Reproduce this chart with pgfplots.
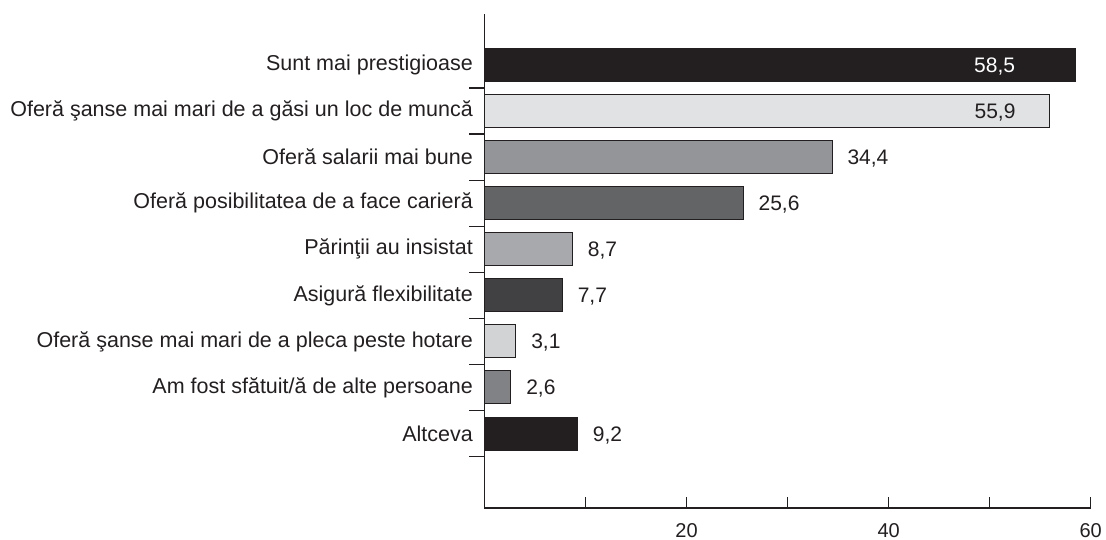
\documentclass[border=0pt]{standalone}
\usepackage{fontspec}
\setmainfont{Liberation Sans}
\usepackage{pgfplots}
\pgfplotsset{compat=1.18}

\definecolor{ink}{HTML}{231F20}
\definecolor{g1}{HTML}{231F20}
\definecolor{g2}{HTML}{E1E2E4}
\definecolor{g3}{HTML}{939598}
\definecolor{g4}{HTML}{636466}
\definecolor{g5}{HTML}{A7A9AC}
\definecolor{g6}{HTML}{414042}
\definecolor{g7}{HTML}{D1D3D4}
\definecolor{g8}{HTML}{808285}
\definecolor{g9}{HTML}{231F20}

\newcommand{\lblfont}{\fontsize{21.5}{24}\selectfont}
\newcommand{\valfont}{\fontsize{21}{24}\selectfont}
\newcommand{\tickfont}{\fontsize{20}{22}\selectfont}

\begin{document}
\begin{tikzpicture}
\useasboundingbox (-484.5pt,-32pt) rectangle (621.5pt,508pt);
\begin{axis}[
    at={(0pt,0pt)}, anchor=south west,
    scale only axis,
    width=606.2pt, height=494pt,
    xmin=0, xmax=60,
    ymin=-0.617, ymax=10.107,
    axis x line=bottom, axis y line=left,
    axis line style={-, line width=1.2pt, draw=ink},
    tick align=inside,
    major tick length=11pt,
    tick style={line width=1.2pt, draw=ink},
    ytick style={/pgfplots/major tick length=15pt},
    xtick={10,20,30,40,50,60},
    xticklabels={,20,,40,,60},
    xticklabel style={anchor=north, inner sep=0pt, yshift=-15pt, font=\tickfont, text=ink},
    ytick={0.5,1.5,2.5,3.5,4.5,5.5,6.5,7.5,8.5},
    yticklabels={},
    extra y ticks={1,2,3,4,5,6,7,8,9},
    extra y tick labels={
        Altceva,
        Am fost sfătuit/ă de alte persoane,
        Oferă şanse mai mari de a pleca peste hotare,
        Asigură flexibilitate,
        Părinţii au insistat,
        Oferă posibilitatea de a face carieră,
        Oferă salarii mai bune,
        Oferă şanse mai mari de a găsi un loc de muncă,
        Sunt mai prestigioase},
    extra y tick style={tick style={draw=none},
        yticklabel style={anchor=east, inner sep=0pt, xshift=-0.5pt, font=\lblfont, text=ink}},
    xbar, bar width=33pt, bar shift=0pt,
    point meta=explicit symbolic,
    nodes near coords,
    every node near coord/.style={anchor=base west, inner sep=0pt, xshift=15pt, yshift=-7.5pt, font=\valfont, text=ink},
    clip=false,
]
% bare cu etichete in interior
\addplot[fill=g1, draw=ink, line width=1pt,
    every node near coord/.style={anchor=base east, inner sep=0pt, xshift=-60pt, yshift=-7.5pt, font=\valfont, text=white}]
    coordinates {(58.5,9) [58,5]};
\addplot[fill=g2, draw=ink, line width=1pt,
    every node near coord/.style={anchor=base east, inner sep=0pt, xshift=-33.3pt, yshift=-7.5pt, font=\valfont, text=ink}]
    coordinates {(55.9,8) [55,9]};
% restul
\addplot[fill=g3, draw=ink, line width=1pt] coordinates {(34.4,7) [34,4]};
\addplot[fill=g4, draw=ink, line width=1pt] coordinates {(25.6,6) [25,6]};
\addplot[fill=g5, draw=ink, line width=1pt] coordinates {(8.7,5) [8,7]};
\addplot[fill=g6, draw=ink, line width=1pt] coordinates {(7.7,4) [7,7]};
\addplot[fill=g7, draw=ink, line width=1pt] coordinates {(3.1,3) [3,1]};
\addplot[fill=g8, draw=ink, line width=1pt] coordinates {(2.6,2) [2,6]};
\addplot[fill=g9, draw=ink, line width=1pt] coordinates {(9.2,1) [9,2]};
\end{axis}
\end{tikzpicture}
\end{document}
